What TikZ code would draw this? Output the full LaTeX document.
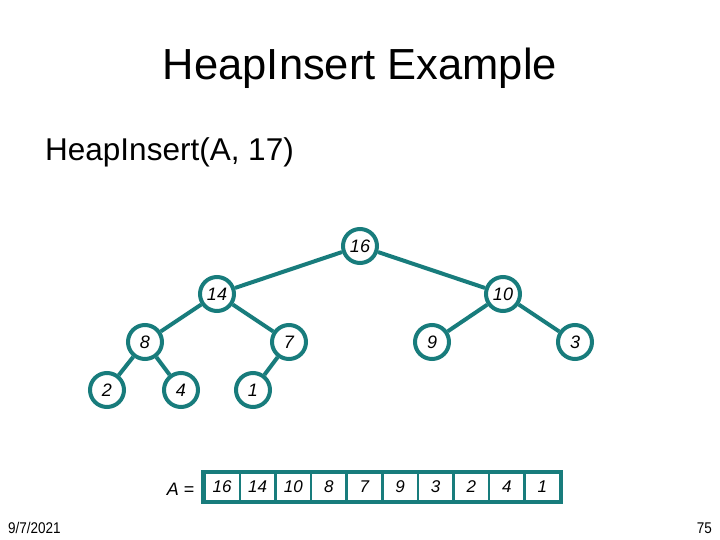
\documentclass[tikz,border=0pt]{standalone}
\usepackage{fontspec}
\setmainfont{Liberation Sans}
\definecolor{tealc}{RGB}{24,124,124}
\begin{document}
\begin{tikzpicture}[x=1pt,y=-1pt,
  hn/.style={circle,draw=tealc,line width=4pt,fill=white,minimum size=34pt,inner sep=0pt,font=\fontsize{18}{18}\selectfont\itshape},
  edge/.style={draw=tealc,line width=4pt},
  cell/.style={draw=tealc,line width=2.5pt,minimum width=35.6pt,minimum height=28pt,inner sep=0pt,font=\fontsize{17}{17}\selectfont\itshape,anchor=west}]
\useasboundingbox (0,0) rectangle (720,540);
\node (title) at (360,68) {\fontsize{43.5}{43.5}\selectfont HeapInsert Example};
\node[anchor=west,inner sep=0pt] (call) at (45,152) {\fontsize{31.5}{31.5}\selectfont HeapInsert(A, 17)};
\node (n16) [hn] at (360,246) {16};
\node (n14) [hn] at (217,294) {14};
\node (n10) [hn] at (503,294) {10};
\node (n8) [hn] at (145,342) {8};
\node (n7) [hn] at (289,342) {7};
\node (n9) [hn] at (432,342) {9};
\node (n3) [hn] at (575,342) {3};
\node (n2) [hn] at (107,390) {2};
\node (n4) [hn] at (181,390) {4};
\node (n1) [hn] at (253,390) {1};
\draw[edge] (n16) -- (n14);
\draw[edge] (n16) -- (n10);
\draw[edge] (n14) -- (n8);
\draw[edge] (n14) -- (n7);
\draw[edge] (n10) -- (n9);
\draw[edge] (n10) -- (n3);
\draw[edge] (n8) -- (n2);
\draw[edge] (n8) -- (n4);
\draw[edge] (n7) -- (n1);
\node[anchor=east,font=\fontsize{18}{18}\selectfont] (alabel) at (198,489) {\textit{A} =};
\foreach \v [count=\i from 0] in {16,14,10,8,7,9,3,2,4,1} {
  \node[cell] (c\i) at (203+35.6*\i,487) {\v};
}
\draw[draw=tealc,line width=3.5pt] (c0.north west) rectangle (c9.south east);
\node[anchor=west,inner sep=0pt,font=\fontsize{15.5}{15.5}\selectfont] (date) at (8,528) {\scalebox{0.87}[1]{9/7/2021}};
\node[anchor=east,inner sep=0pt,font=\fontsize{15.5}{15.5}\selectfont] (page) at (712,528) {\scalebox{0.87}[1]{75}};
\end{tikzpicture}
\end{document}
